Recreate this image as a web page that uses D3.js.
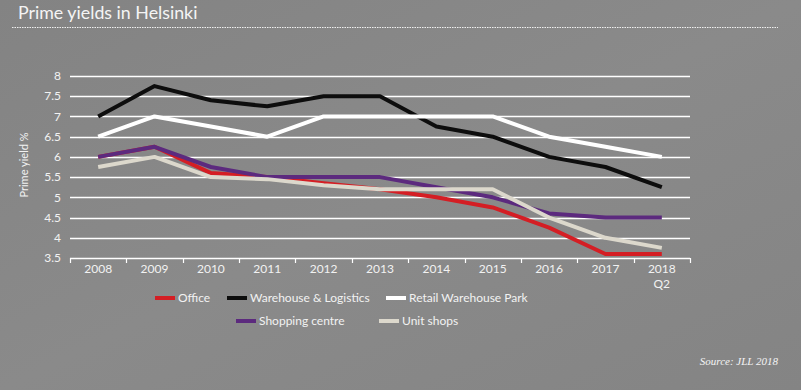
<!DOCTYPE html>
<html>
<head>
<meta charset="utf-8">
<script src="https://cdn.jsdelivr.net/npm/d3@7"></script>
<style>
  body { margin: 0; background: #868686; }
  svg { display: block; font-family: Lato, "Open Sans", sans-serif; }
  .title { fill: #f4f4f4; font-size: 17.8px; }
  .axis text { fill: #f2f2f2; font-size: 12px; }
  .legend text { fill: #f2f2f2; font-size: 12px; }
  .source { fill: #f4f4f4; font-family: "Liberation Serif", serif; font-style: italic; font-size: 11px; }
</style>
</head>
<body>
<svg width="801" height="390"></svg>
<script>
const years = ["2008", "2009", "2010", "2011", "2012", "2013", "2014", "2015", "2016", "2017", "2018 Q2"];
const yTicks = [3.5, 4, 4.5, 5, 5.5, 6, 6.5, 7, 7.5, 8];

const office     = [6.0, 6.25, 5.6, 5.5, 5.35, 5.2, 5.0, 4.75, 4.25, 3.6, 3.6];
const warehouse  = [7.0, 7.75, 7.4, 7.25, 7.5, 7.5, 6.75, 6.5, 6.0, 5.75, 5.25];
const retailPark = [6.5, 7.0, 6.75, 6.5, 7.0, 7.0, 7.0, 7.0, 6.5, 6.25, 6.0];
const shopping   = [6.0, 6.25, 5.75, 5.5, 5.5, 5.5, 5.25, 5.0, 4.6, 4.5, 4.5];
const unitShops  = [5.75, 6.0, 5.5, 5.45, 5.3, 5.2, 5.2, 5.2, 4.5, 4.0, 3.75];

const series = [
  { name: "Office", values: office, color: "#d41e24" },
  { name: "Warehouse & Logistics", values: warehouse, color: "#0d0d0d" },
  { name: "Retail Warehouse Park", values: retailPark, color: "#ffffff" },
  { name: "Shopping centre", values: shopping, color: "#5c2a7e" },
  { name: "Unit shops", values: unitShops, color: "#dcd8cc" }
];

const svg = d3.select("svg");
const margin = { top: 76, left: 70, right: 111, bottom: 132 };
const width = 801 - margin.left - margin.right;
const height = 390 - margin.top - margin.bottom;

// faint variation on the grey background
const defs = svg.append("defs");
const grad = defs.append("linearGradient").attr("id", "bg")
    .attr("x1", 0).attr("y1", 0).attr("x2", 1).attr("y2", 1);
grad.append("stop").attr("offset", "0%").attr("stop-color", "#838383");
grad.append("stop").attr("offset", "50%").attr("stop-color", "#8a8a8a");
grad.append("stop").attr("offset", "100%").attr("stop-color", "#848484");
svg.append("rect").attr("width", 801).attr("height", 390).attr("fill", "url(#bg)");

svg.append("text")
    .attr("class", "title")
    .attr("x", 18).attr("y", 19)
    .text("Prime yields in Helsinki");

svg.append("line")
    .attr("x1", 12).attr("x2", 778)
    .attr("y1", 27.5).attr("y2", 27.5)
    .attr("stroke", "#f0f0f0")
    .attr("stroke-width", 1)
    .attr("stroke-dasharray", "1.5,1");

const g = svg.append("g").attr("transform", `translate(${margin.left},${margin.top})`);

const x = d3.scaleBand().domain(years).range([0, width]);
const y = d3.scaleLinear().domain([3.5, 8]).range([height, 0]);

// gridlines
g.append("g")
  .selectAll("line")
  .data(yTicks.slice(1))
  .join("line")
    .attr("x1", 0).attr("x2", width)
    .attr("y1", d => Math.round(y(d)) + 0.5).attr("y2", d => Math.round(y(d)) + 0.5)
    .attr("stroke", "#ffffff")
    .attr("stroke-width", 1.3);

// y axis labels
g.append("g")
    .attr("class", "axis")
  .selectAll("text")
  .data(yTicks)
  .join("text")
    .attr("x", -9)
    .attr("y", d => y(d))
    .attr("dy", "0.35em")
    .attr("text-anchor", "end")
    .text(d => d);

svg.append("text")
    .attr("transform", "translate(28,165) rotate(-90)")
    .attr("text-anchor", "middle")
    .style("fill", "#f2f2f2")
    .style("font-size", "11px")
    .text("Prime yield %");

// x axis
const xAxis = g.append("g")
    .attr("class", "axis")
    .attr("transform", `translate(0,${height})`);

xAxis.append("line")
    .attr("x1", 0).attr("x2", width)
    .attr("y1", 0.5).attr("y2", 0.5)
    .attr("stroke", "#fff").attr("stroke-width", 1.5);

xAxis.selectAll(".tick")
  .data(d3.range(years.length + 1))
  .join("line")
    .attr("x1", i => Math.round(i * x.step()) + 0.5)
    .attr("x2", i => Math.round(i * x.step()) + 0.5)
    .attr("y1", 0).attr("y2", 5)
    .attr("stroke", "#fff").attr("stroke-width", 1.2);

// each label may have a second line ("Q2"), drawn as its own text
const labelLines = years.flatMap(d => d.split(" ").map((p, i) => ({ year: d, text: p, row: i })));

xAxis.selectAll(".lbl")
  .data(labelLines)
  .join("text")
    .attr("x", d => x(d.year) + x.bandwidth() / 2)
    .attr("y", d => 15 + d.row * 14.5)
    .attr("text-anchor", "middle")
    .text(d => d.text);

// lines
const line = d3.line()
    .x((_, i) => x(years[i]) + x.bandwidth() / 2)
    .y(d => y(d));

g.append("g")
  .selectAll("path")
  .data(series)
  .join("path")
    .attr("fill", "none")
    .attr("stroke", d => d.color)
    .attr("stroke-width", 4)
    .attr("stroke-linejoin", "round")
    .attr("d", d => line(d.values));

// legend
const legendPos = [
  { x: 155, y: 298 }, { x: 227, y: 298 }, { x: 386, y: 298 },
  { x: 236, y: 321 }, { x: 379, y: 321 }
];

const legend = svg.append("g")
    .attr("class", "legend")
  .selectAll("g")
  .data(series)
  .join("g")
    .attr("transform", (_, i) => `translate(${legendPos[i].x},${legendPos[i].y})`);

legend.append("rect")
    .attr("y", -2).attr("width", 20).attr("height", 4)
    .attr("fill", d => d.color);

legend.append("text")
    .attr("x", 23).attr("dy", "0.35em")
    .text(d => d.name);

svg.append("text")
    .attr("class", "source")
    .attr("x", 778).attr("y", 365)
    .attr("text-anchor", "end")
    .text("Source: JLL 2018");
</script>
</body>
</html>
